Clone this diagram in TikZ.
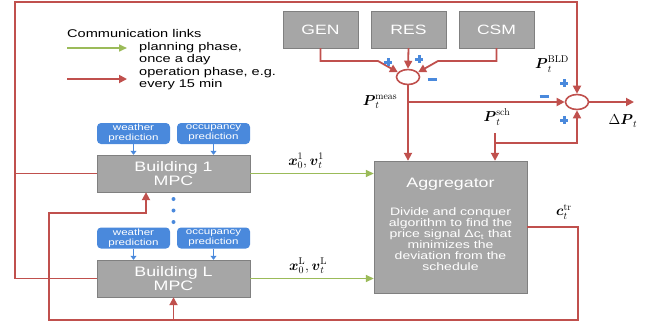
\documentclass[tikz,border=0pt]{standalone}
\usepackage{amsmath,amssymb}
\usepackage{fontspec}
\usepackage{tikz}
\usetikzlibrary{arrows.meta,shapes.geometric}
\usetikzlibrary{positioning}
\usetikzlibrary{calc}
\newfontfamily\helv[FakeStretch=1.3]{Liberation Sans}
\definecolor{linkred}{RGB}{192,80,77}
\definecolor{linkgreen}{RGB}{155,187,89}
\definecolor{predblue}{RGB}{74,137,220}
\definecolor{boxgray}{RGB}{166,166,166}
\definecolor{boxedge}{RGB}{128,128,128}
\tikzset{
	operation/.style={draw=linkred, line width=1.8pt, -{Triangle[length=8pt,width=8pt]}},
	operationnoarrow/.style={draw=linkred, line width=1.8pt},
	planning/.style={draw=linkgreen, line width=1.6pt, -{Triangle[length=8pt,width=7pt]}},
	predarrow/.style={draw=predblue, line width=1.4pt, -{Triangle[length=4pt,width=6pt]}},
	graybox/.style={draw=boxedge, fill=boxgray, text=white, align=center, inner sep=0pt},
	mpc/.style={graybox, minimum width=153pt, minimum height=37pt,
		font=\helv\fontsize{13.7}{14}\selectfont},
	source/.style={graybox, minimum width=75pt, minimum height=37pt,
		font=\helv\fontsize{13.5}{14}\selectfont},
	prediction/.style={fill=predblue, rounded corners=4pt, text=white, align=center,
		minimum width=73pt, minimum height=21pt, inner sep=0pt,
		font=\helv\fontsize{8.9}{10}\selectfont},
	summer/.style={ellipse, draw=linkred, line width=1.6pt, fill=white,
		minimum width=23pt, minimum height=15pt, inner sep=0pt},
	legendtext/.style={align=left, inner sep=0pt, font=\helv\fontsize{11.2}{11.5}\selectfont},
	signal/.style={inner sep=0pt, font=\fontsize{14}{15}\selectfont},
	signmark/.style={draw=predblue, line width=3pt},
}
\newcommand{\plusat}[1]{\draw[signmark] #1 ++(-4,0) -- ++(8,0) #1 ++(0,-4) -- ++(0,8);}
\newcommand{\minusat}[1]{\draw[signmark] #1 ++(-4.5,0) -- ++(9,0);}

\begin{document}
\begin{tikzpicture}[x=1pt, y=-1pt]
	\useasboundingbox (0,0) rectangle (651,330);
	% legend
	\node[legendtext, anchor=west] (legtitle) at (67,33) {Communication links};
	\coordinate (greenstart) at (67,48);
	\coordinate (greenend) at (127,48);
	\coordinate (redstart) at (67,79);
	\coordinate (redend) at (127,79);
	\draw[planning] (greenstart) -- (greenend);
	\draw[operation] (redstart) -- (redend);
	\node[legendtext, anchor=west] (plantext) at (139,53.5) {planning phase,\\once a day};
	\node[legendtext, anchor=west] (optext) at (139,78.5) {operation phase, e.g.\\every 15 min};

	% sources and summation
	\node[source] (gen) at (320.5,29.5) {GEN};
	\node[source] (res) at (408.5,29.5) {RES};
	\node[source] (csm) at (496.5,29.5) {CSM};
	\node[summer] (sum1) at (408,77) {};
	\node[summer] (sum2) at (577,102) {};
	\coordinate (genbend) at (378,61);
	\coordinate (csmbend) at (438,61);
	\draw[operation] (gen.south) |- (genbend) -- (sum1.155);
	\draw[operation] (res.south) -- (sum1.north);
	\draw[operation] (csm.south) |- (csmbend) -- (sum1.25);
	\plusat{(388,62)}
	\plusat{(419,59)}
	\minusat{(432,79)}
	\plusat{(564,83)}
	\minusat{(544,96)}
	\plusat{(564,120)}

	% aggregator
	\node[graybox, minimum width=153pt, minimum height=132pt] (agg) at (450.5,227) {};
	\node[text=white, font=\helv\fontsize{13.7}{14}\selectfont] (aggtitle) at (450.5,184) {Aggregator};
	\node[text=white, align=center, font=\helv\fontsize{10.8}{11}\selectfont] (aggtext) at (450.5,239)
		{Divide and conquer\\algorithm to find the\\price signal Δc\textsubscript{t} that\\minimizes the\\deviation from the\\schedule};

	% buildings
	\node[mpc] (b1) at (173.5,173.5) {Building 1\\MPC};
	\node[mpc] (bL) at (173.5,278.5) {Building L\\MPC};
	\node[prediction] (w1) at (133.5,133.5) {weather\\prediction};
	\node[prediction] (o1) at (213.5,133.5) {occupancy\\prediction};
	\node[prediction] (wL) at (133.5,238) {weather\\prediction};
	\node[prediction] (oL) at (213.5,238) {occupancy\\prediction};
	\draw[predarrow] (w1.south) -- (w1.south |- b1.north);
	\draw[predarrow] (o1.south) -- (o1.south |- b1.north);
	\draw[predarrow] (wL.south) -- (wL.south |- bL.north);
	\draw[predarrow] (oL.south) -- (oL.south |- bL.north);
	\foreach \y in {199,210.5,222}
		\fill[predblue] (173.5,\y) circle (2pt);

	% planning links
	\draw[planning] (b1.east) -- (b1.east -| agg.west)
		node[signal, midway, above=4pt, xshift=-6pt] (x1lbl) {$\boldsymbol{x}_0^1, \boldsymbol{v}_t^1$};
	\draw[planning] (bL.east) -- (bL.east -| agg.west)
		node[signal, midway, above=4pt, xshift=-4pt] (xLlbl) {$\boldsymbol{x}_0^{\mathrm{L}}, \boldsymbol{v}_t^{\mathrm{L}}$};

	% measured and scheduled power
	\draw[operation] (sum1.south) -- (sum1.south |- agg.north);
	\draw[operation] (sum1.south |- sum2.west) -- (sum2.west);
	\coordinate (dP) at (634,102);
	\draw[operation] (sum2.east) -- (dP);
	\coordinate (sch) at (495,133);
	\coordinate (schjoin) at (495,143);
	\draw[operation] (sch) -- (sch |- agg.north);
	\draw[operation] (schjoin) -| (sum2.south);
	\node[signal] (pmeas) at (380,102) {$\boldsymbol{P}_t^{\mathrm{meas}}$};
	\node[signal] (pbld) at (552,64) {$\boldsymbol{P}_t^{\mathrm{BLD}}$};
	\node[signal] (psch) at (497,117) {$\boldsymbol{P}_t^{\mathrm{sch}}$};
	\node[signal] (dPlbl) at (623,121) {$\Delta \boldsymbol{P}_t$};

	% building power loop
	\coordinate (topleft) at (15,2);
	\coordinate (topright) at (577,2);
	\draw[operation] (bL.west) -| (topleft) -- (topright) -- (sum2.north);
	\draw[operationnoarrow] (b1.west) -- (b1.west -| topleft);

	% price signal loop
	\coordinate (botright) at (578,320);
	\coordinate (botleft) at (49,320);
	\coordinate (b1feed) at (146,213);
	\draw[operation] (agg.east) -| (botright) -- (botleft) |- (b1feed) -- (b1feed |- b1.south);
	\draw[operation] (bL.south |- botright) -- (bL.south);
	\node[signal] (ctr) at (564,212) {$\boldsymbol{c}_t^{\mathrm{tr}}$};
\end{tikzpicture}
\end{document}
